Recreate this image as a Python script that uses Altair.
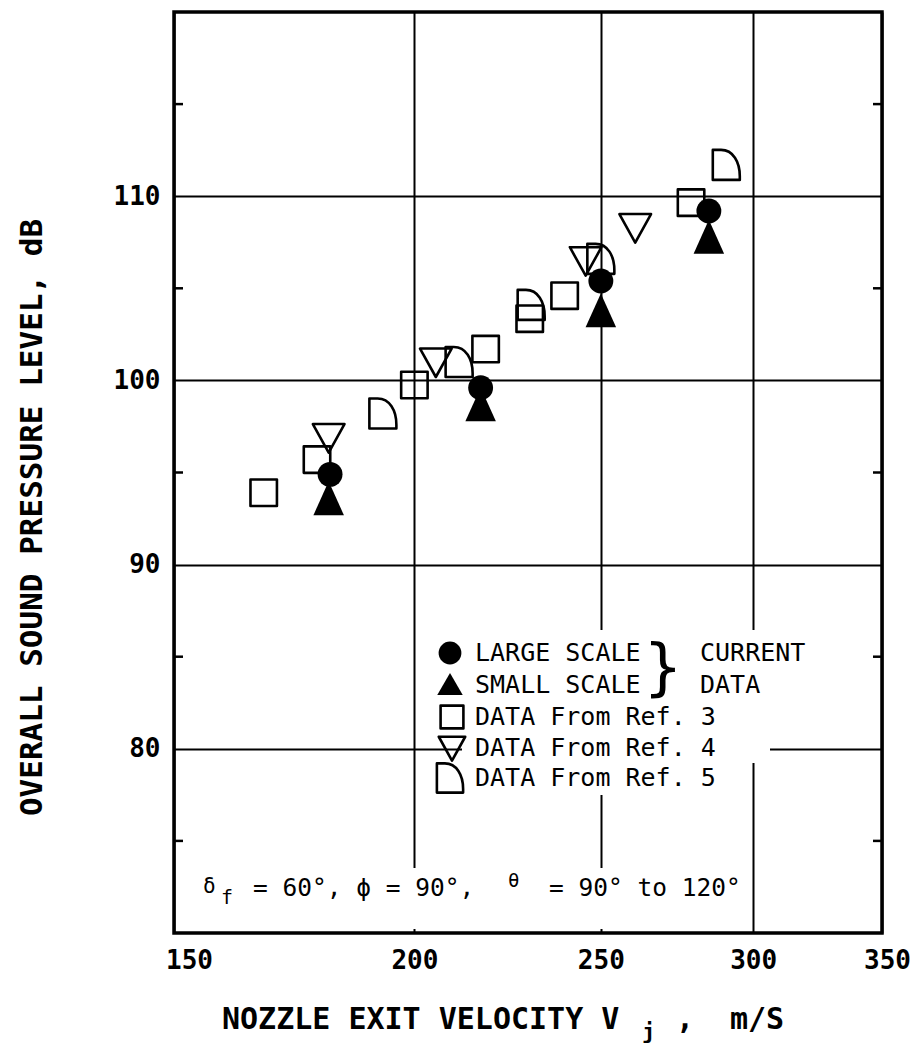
import altair as alt
import pandas as pd

# Nozzle exit velocity (m/s) and overall sound pressure level (dB) per data set
large_v = [180.8, 216.5, 250.0, 284.5]
large_db = [94.9, 99.6, 105.4, 109.2]

small_v = [180.5, 216.5, 250.0, 284.5]
small_db = [93.6, 98.7, 103.8, 107.8]

ref3_v = [167.0, 178.0, 200.0, 217.8, 229.6, 239.4, 278.5]
ref3_db = [93.9, 95.7, 99.75, 101.7, 103.35, 104.6, 109.65]

ref4_v = [180.5, 205.2, 245.5, 260.5]
ref4_db = [96.9, 101.0, 106.5, 108.3]

ref5_v = [192.6, 211.0, 230.0, 250.0, 290.5]
ref5_db = [98.2, 101.0, 104.1, 106.6, 111.7]

x_ticks = [150, 200, 250, 300, 350]
y_ticks = [80, 90, 100, 110]
y_minor = [75, 85, 95, 105, 115]

legend_labels = ["LARGE SCALE", "SMALL SCALE", "DATA From Ref. 3",
                 "DATA From Ref. 4", "DATA From Ref. 5"]

FONT = "DejaVu Sans Mono"
W, H = 708, 921
ONE = pd.DataFrame({"k": [0]})

# symbol outlines (unit square coordinates)
TRI_UP = "M0,-1L0.9,1L-0.9,1Z"
TRI_DOWN = "M-1,-0.85L1,-0.85L0,0.95Z"
QUARTER = "M-0.9,1L-0.9,-1L-0.35,-1C0.45,-1 0.9,-0.2 0.9,0.75L0.9,1Z"

x_enc = alt.X(
    "v:Q",
    scale=alt.Scale(type="log", domain=[150, 350], nice=False),
    axis=alt.Axis(values=x_ticks, format="d", grid=True, gridColor="black",
                  gridWidth=2, gridOpacity=1, ticks=False, domain=False,
                  labelFlush=False,
                  labelOffset=alt.ExprRef(
                      "datum.value == 150 ? 15 : (datum.value == 350 ? 5 : 0)"),
                  labelFont=FONT, labelFontWeight="bold", labelFontSize=26,
                  labelColor="black", labelPadding=14, title=None),
)
y_enc = alt.Y(
    "db:Q",
    scale=alt.Scale(domain=[70, 120], nice=False, zero=False),
    axis=alt.Axis(values=y_ticks, grid=True, gridColor="black", gridWidth=2,
                  gridOpacity=1, ticks=False, domain=False,
                  labelFont=FONT, labelFontWeight="bold", labelFontSize=26,
                  labelColor="black", labelPadding=14,
                  title="OVERALL SOUND PRESSURE LEVEL,  dB",
                  titleFont=FONT, titleFontSize=31, titleFontWeight="bold",
                  titleColor="black", titleAngle=270, titleAlign="center",
                  titleBaseline="middle", titleX=-142, titleY=505),
)


def series(v, db):
    return pd.DataFrame({"v": v, "db": db})


def open_pts(v, db, shape, size):
    return alt.Chart(series(v, db)).mark_point(
        shape=shape, size=size, filled=False, color="black",
        strokeWidth=2.6, strokeJoin="round", opacity=1
    ).encode(x=x_enc, y=y_enc)


def solid_pts(v, db, shape, size):
    return alt.Chart(series(v, db)).mark_point(
        shape=shape, size=size, filled=True, color="black", opacity=1
    ).encode(x=x_enc, y=y_enc)


def text(t, x, y, size, weight="normal", align="left", baseline="alphabetic",
         font=FONT):
    return alt.Chart(ONE).mark_text(
        text=t, font=font, fontSize=size, fontWeight=weight, align=align,
        baseline=baseline, color="black"
    ).encode(x=alt.value(x), y=alt.value(y))


def symbol(shape, x, y, size, filled):
    return alt.Chart(ONE).mark_point(
        shape=shape, size=size, filled=filled, color="black",
        strokeWidth=2.6, strokeJoin="round", opacity=1
    ).encode(x=alt.value(x), y=alt.value(y))


def blank(x1, x2, y1, y2):
    return alt.Chart(ONE).mark_rect(color="white").encode(
        x=alt.value(x1), x2=alt.value(x2), y=alt.value(y1), y2=alt.value(y2))


layers = []

# open markers of the reference data sets (carry the axes and grid)
layers.append(open_pts(ref3_v, ref3_db, "square", 700))

# white backing behind legend and condition note
layers += [blank(288, 596, 618, 751), blank(288, 565, 751, 783),
           blank(11, 576, 856, 917)]

# minor ticks on both vertical borders
minor = pd.DataFrame({"db": y_minor})
layers.append(alt.Chart(minor).mark_rule(color="black", strokeWidth=2.5)
              .encode(y=y_enc, x=alt.value(0), x2=alt.value(9)))
layers.append(alt.Chart(minor).mark_rule(color="black", strokeWidth=2.5)
              .encode(y=y_enc, x=alt.value(W - 9), x2=alt.value(W)))

layers.append(open_pts(ref4_v, ref4_db, TRI_DOWN, 1000))
layers.append(open_pts(ref5_v, ref5_db, QUARTER, 900))
layers.append(solid_pts(small_v, small_db, TRI_UP, 1150))
layers.append(solid_pts(large_v, large_db, "circle", 620))

# legend
rows = [641, 673, 705, 736, 766]
sym_x, lab_x = 276, 301
layers += [
    symbol("circle", sym_x, rows[0], 520, True),
    symbol("triangle-up", sym_x, rows[1] - 1, 650, True),
    symbol("square", sym_x + 2, rows[2], 520, False),
    symbol(TRI_DOWN, sym_x + 2, rows[3], 700, False),
    symbol(QUARTER, sym_x, rows[4], 850, False),
]
for lab, ry in zip(legend_labels, rows):
    layers.append(text(lab, lab_x, ry, 25, baseline="middle"))
layers.append(text("}", 489, 657, 62, align="center", baseline="middle",
                   font="DejaVu Sans"))
layers.append(text("CURRENT", 526, rows[0], 25, baseline="middle"))
layers.append(text("DATA", 526, rows[1], 25, baseline="middle"))

# test condition note
base = 884
layers += [
    text("δ", 29, base - 3, 21),
    text("f", 47, base + 8, 20),
    text("= 60°, ϕ = 90°,", 79, base, 24.5),
    text("θ", 334, base - 9, 19),
    text("= 90° to 120°", 375, base, 24.5),
]

# horizontal axis title with subscript
layers += [
    text("NOZZLE EXIT VELOCITY V", 48, 1008, 30, weight="bold",
         baseline="middle"),
    text("j", 468, 1020, 22, weight="bold", baseline="middle"),
    text(",", 502, 1008, 30, weight="bold", baseline="middle"),
    text("m/S", 556, 1008, 30, weight="bold", baseline="middle"),
]

chart = alt.layer(*layers).properties(
    width=W,
    height=H,
    autosize=alt.AutoSizeParams(type="none"),
    padding={"left": 174, "top": 12, "right": 31, "bottom": 122},
    background="white",
).configure_view(stroke="black", strokeWidth=3.5)

chart.save("out.html", embed_options={"renderer": "svg", "actions": False})
